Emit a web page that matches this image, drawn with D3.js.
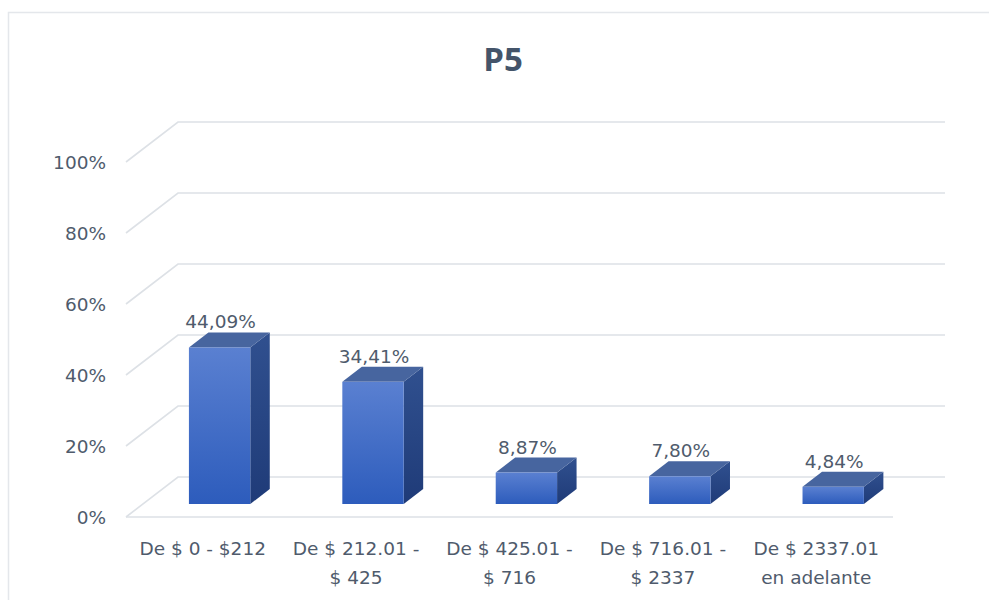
<!DOCTYPE html>
<html>
<head>
<meta charset="utf-8">
<script src="https://cdn.jsdelivr.net/npm/d3@7"></script>
<style>
  body { margin: 0; background: #fff; }
  text { font-family: "DejaVu Sans", sans-serif; }
  text.title { font-family: "Open Sans", sans-serif; }
</style>
</head>
<body>
<svg id="chart"></svg>
<script>
// data
let categories = [
    ["De $ 0 - $212"],
    ["De $ 212.01 -", "$ 425"],
    ["De $ 425.01 -", "$ 716"],
    ["De $ 716.01 -", "$ 2337"],
    ["De $ 2337.01", "en adelante"]
];
let values = [44.09, 34.41, 8.87, 7.80, 4.84];
let valueLabels = ["44,09%", "34,41%", "8,87%", "7,80%", "4,84%"];
let yTicks = [0, 20, 40, 60, 80, 100];
let title = "P5";

let width = 989, height = 600;
let svg = d3.select("#chart").attr("width", width).attr("height", height);

// outer chart border
svg.append("rect")
    .attr("x", 8.5).attr("y", 12.5)
    .attr("width", 1000).attr("height", 700)
    .attr("fill", "none").attr("stroke", "#e4e7eb").attr("stroke-width", 1.5);

svg.append("text")
    .attr("class", "title")
    .attr("x", 503).attr("y", 71)
    .attr("text-anchor", "middle")
    .attr("font-size", 33).attr("font-weight", "bold")
    .attr("fill", "#44546a")
    .text(title);

// depth offsets for the fake 3d look
let DX = 52, DY = 40;
let fs = 18.5;

let x = d3.scaleBand().domain(d3.range(categories.length)).range([126, 893]).paddingInner(0).paddingOuter(0);
let y = d3.scaleLinear().domain([0, 100]).range([517, 162]);

function proj(px, v, z) {
    return [px + z * DX, y(v) - z * DY];
}

let grid = svg.append("g");
yTicks.forEach(t => {
    let a = proj(126, t, 0), b = proj(126, t, 1), c = proj(893, t, 1);
    grid.append("path")
        .attr("d", d3.line()([a, b, c]))
        .attr("fill", "none").attr("stroke", "#dde1e6").attr("stroke-width", 1.6);
});
// front edge of the floor
grid.append("line")
    .attr("x1", 126).attr("x2", 893).attr("y1", y(0)).attr("y2", y(0))
    .attr("stroke", "#dde1e6").attr("stroke-width", 1.6);

// y labels
svg.append("g").selectAll("text")
    .data(yTicks)
    .join("text")
    .attr("x", 106).attr("y", d => y(d) + 7)
    .attr("text-anchor", "end")
    .attr("font-size", fs).attr("fill", "#4f5b6c")
    .text(d => d + "%");

let defs = svg.append("defs");
let gFront = defs.append("linearGradient").attr("id", "gFront").attr("x1", 0).attr("y1", 0).attr("x2", 0).attr("y2", 1);
gFront.append("stop").attr("offset", "0%").attr("stop-color", "#5a80d1");
gFront.append("stop").attr("offset", "100%").attr("stop-color", "#2d5cbc");
let gSide = defs.append("linearGradient").attr("id", "gSide").attr("x1", 0).attr("y1", 0).attr("x2", 0).attr("y2", 1);
gSide.append("stop").attr("offset", "0%").attr("stop-color", "#30508f");
gSide.append("stop").attr("offset", "100%").attr("stop-color", "#1f3b78");

let z0 = 0.325, z1 = 0.7, barFrac = 0.4;

let bars = svg.append("g").selectAll("g")
    .data(values)
    .join("g");

bars.each(function (d, i) {
    let g = d3.select(this);
    let bw = x.bandwidth() * barFrac;
    let x0 = x(i) + (x.bandwidth() - bw) / 2, x1 = x0 + bw;
    let line = d3.line();
    // side
    g.append("path")
        .attr("d", line([proj(x1, 0, z0), proj(x1, 0, z1), proj(x1, d, z1), proj(x1, d, z0)]) + "Z")
        .attr("fill", "url(#gSide)");
    // top
    g.append("path")
        .attr("d", line([proj(x0, d, z0), proj(x1, d, z0), proj(x1, d, z1), proj(x0, d, z1)]) + "Z")
        .attr("fill", "#47659f");
    // front
    let f0 = proj(x0, d, z0), f1 = proj(x1, 0, z0);
    g.append("rect")
        .attr("x", f0[0]).attr("y", f0[1])
        .attr("width", f1[0] - f0[0]).attr("height", f1[1] - f0[1])
        .attr("fill", "url(#gFront)");
    // value label
    let top = proj((x0 + x1) / 2, d, z1);
    g.append("text")
        .attr("x", f0[0] + bw / 2 + 1).attr("y", top[1] - 4)
        .attr("text-anchor", "middle")
        .attr("font-size", fs).attr("fill", "#4f5b6c")
        .text(valueLabels[i]);
});

// category labels
svg.append("g").selectAll("text")
    .data(categories)
    .join("text")
    .attr("text-anchor", "middle")
    .attr("font-size", fs).attr("fill", "#4f5b6c")
    .each(function (d, i) {
        d3.select(this).selectAll("tspan")
            .data(d)
            .join("tspan")
            .attr("x", x(i) + x.bandwidth() / 2)
            .attr("y", (t, j) => 555 + j * 29)
            .text(t => t);
    });
</script>
</body>
</html>
